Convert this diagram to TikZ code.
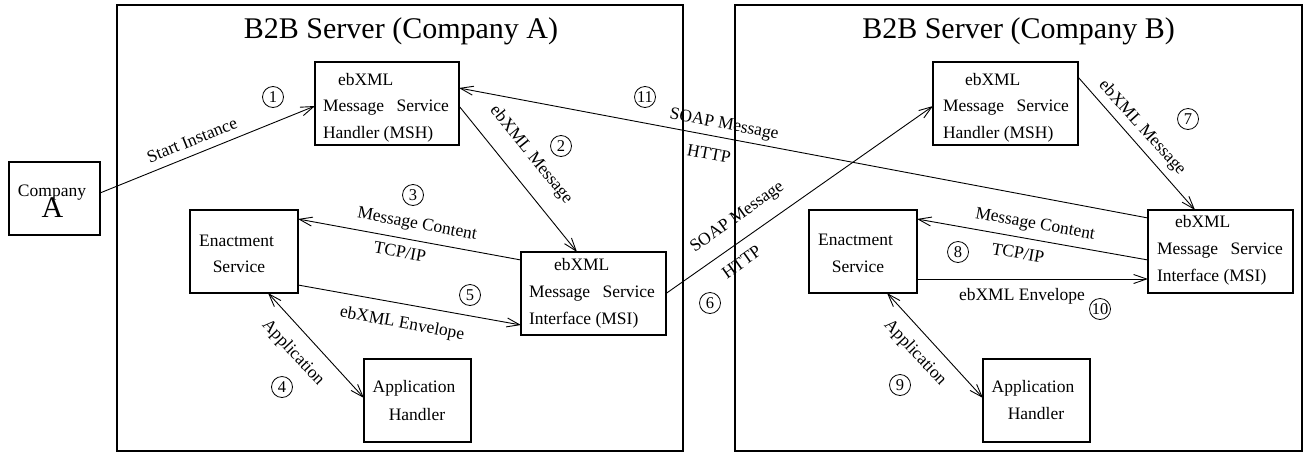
\documentclass[tikz,border=0pt]{standalone}
\usepackage{fontspec}
\setmainfont{Liberation Serif}
\usetikzlibrary{arrows.meta,calc}
\begin{document}
\begin{tikzpicture}[x=1pt,y=-1pt,
  every node/.style={inner sep=0pt, outer sep=0pt},
  server/.style={draw, line width=1.2pt},
  box/.style={draw, line width=1.1pt, minimum height=83pt},
  txt/.style={font=\fontsize{17.5}{20}\selectfont, anchor=base west},
  ctxt/.style={font=\fontsize{17.5}{20}\selectfont, anchor=base},
  lbl/.style={font=\fontsize{17.5}{20}\selectfont},
  big/.style={font=\fontsize{30}{30}\selectfont, anchor=base},
  num/.style={draw, circle, line width=0.8pt, minimum size=21pt, inner sep=0.3pt, font=\fontsize{16.5}{16.5}\selectfont},
  conn/.style={line width=0.9pt, -{Straight Barb[length=13pt,width=9pt]}},
  conntwo/.style={line width=0.9pt, {Straight Barb[length=13pt,width=9pt]}-{Straight Barb[length=13pt,width=9pt]}},
]
\useasboundingbox (0,0) rectangle (1308,453);

% servers
\node[server, minimum width=566pt, minimum height=446pt] (srvA) at (400,228) {};
\node[server, minimum width=567pt, minimum height=446pt] (srvB) at (1018.5,228) {};
\node[big] (titleA) at (401,38) {B2B Server (Company A)};
\node[big] (titleB) at (1018.5,38) {B2B Server (Company B)};

% company A
\node[box, minimum width=91pt, minimum height=73pt] (compA) at (54.5,198.5) {};
\node[ctxt] (compAt) at (52,196) {Company};
\node[big] (compAl) at (52.5,217) {A};

% Company A server boxes
\node[box, minimum width=144pt] (msha) at (387,103.5) {};
\node[txt] (msha1) at (338,85) {ebXML};
\node[txt] (msha2) at (323,111.5) {\makebox[126pt][s]{Message Service}};
\node[txt] (msha3) at (323,138) {Handler (MSH)};

\node[box, minimum width=145pt] (msia) at (593.5,293.5) {};
\node[txt] (msia1) at (554,270) {ebXML};
\node[txt] (msia2) at (529,297) {\makebox[126pt][s]{Message Service}};
\node[txt] (msia3) at (529,324) {Interface (MSI)};

\node[box, minimum width=108pt] (ensa) at (244,251.5) {};
\node[ctxt] (ensa1) at (236.5,246.5) {Enactment};
\node[ctxt] (ensa2) at (239,272.5) {Service};

\node[box, minimum width=107pt] (appa) at (417.5,400.5) {};
\node[ctxt] (appa1) at (414,392.5) {Application};
\node[ctxt] (appa2) at (417,420) {Handler};

% Company B server boxes
\node[box, minimum width=145pt] (mshb) at (1005.5,103.5) {};
\node[txt] (mshb1) at (965,85) {ebXML};
\node[txt] (mshb2) at (943,111.5) {\makebox[126pt][s]{Message Service}};
\node[txt] (mshb3) at (943,138) {Handler (MSH)};

\node[box, minimum width=145pt] (msib) at (1220.5,251.5) {};
\node[txt] (msib1) at (1175,227) {ebXML};
\node[txt] (msib2) at (1157,254) {\makebox[126pt][s]{Message Service}};
\node[txt] (msib3) at (1157,281) {Interface (MSI)};

\node[box, minimum width=108pt] (ensb) at (863,251.5) {};
\node[ctxt] (ensb1) at (855.5,245.5) {Enactment};
\node[ctxt] (ensb2) at (858,272) {Service};

\node[box, minimum width=107pt] (appb) at (1036.5,400.5) {};
\node[ctxt] (appb1) at (1033,392) {Application};
\node[ctxt] (appb2) at (1036,419) {Handler};

% connectors
\draw[conn] ([yshift=5.5pt]compA.east) -- ([yshift=-2.5pt]msha.west);
\draw[conn] ([yshift=-2.5pt]msha.east) -- ([xshift=-16.5pt]msia.north);
\draw[conn] ([yshift=33.5pt]msia.west) -- ([yshift=32.5pt]ensa.east);
\draw[conn] ([yshift=-33.5pt]ensa.east) -- ([yshift=-31.5pt]msia.west);
\draw[conntwo] ([xshift=24pt]ensa.south) -- ([yshift=2.5pt]appa.west);
\draw[conn] (msia.east) -- ([yshift=-2.5pt]mshb.west);
\draw[conn] ([yshift=33.5pt]msib.west) -- ([yshift=15.5pt]msha.east);
\draw[conn] ([yshift=26.5pt]mshb.east) -- ([xshift=-25.5pt]msib.north);
\draw[conn] ([yshift=-8.5pt]msib.west) -- ([yshift=32.5pt]ensb.east);
\draw[conn] ([yshift=-27.5pt]ensb.east) -- ([yshift=-27.5pt]msib.west);
\draw[conntwo] ([xshift=24pt]ensb.south) -- ([yshift=2.5pt]appb.west);

% labels
\node[lbl, rotate=22.2] (l1) at (192,140) {Start Instance};
\node[lbl, rotate=-51] (l2) at (531,155) {ebXML Message};
\node[lbl, rotate=-10.5] (l3a) at (417,225) {Message Content};
\node[lbl, rotate=-10.5] (l3b) at (400,252) {TCP/IP};
\node[lbl, rotate=-10.3] (l5) at (402,324) {ebXML Envelope};
\node[lbl, rotate=-46.8] (l4) at (293,353) {Application};
\node[lbl, rotate=35.4] (l6a) at (737.5,217.5) {SOAP Message};
\node[lbl, rotate=35.4] (l6b) at (741.5,262) {HTTP};
\node[lbl, rotate=-10.7] (l11a) at (724,125) {SOAP Message};
\node[lbl, rotate=-10.7] (l11b) at (709,154) {HTTP};
\node[lbl, rotate=-48] (l7) at (1142,128) {ebXML Message};
\node[lbl, rotate=-10.1] (l8a) at (1035,225) {Message Content};
\node[lbl, rotate=-10.1] (l8b) at (1018,253) {TCP/IP};
\node[lbl] (l10) at (1022,296) {ebXML Envelope};
\node[lbl, rotate=-46.8] (l9) at (915,353) {Application};

% step numbers
\node[num] (n1) at (273,97) {1};
\node[num] (n2) at (561,146) {2};
\node[num] (n3) at (413,195) {3};
\node[num] (n4) at (282,387) {4};
\node[num] (n5) at (470,295) {5};
\node[num] (n6) at (710,303) {6};
\node[num] (n7) at (1188,119) {7};
\node[num] (n8) at (958,252) {8};
\node[num] (n9) at (900,385) {9};
\node[num] (n10) at (1100,309) {10};
\node[num] (n11) at (645,97) {11};
\end{tikzpicture}
\end{document}
